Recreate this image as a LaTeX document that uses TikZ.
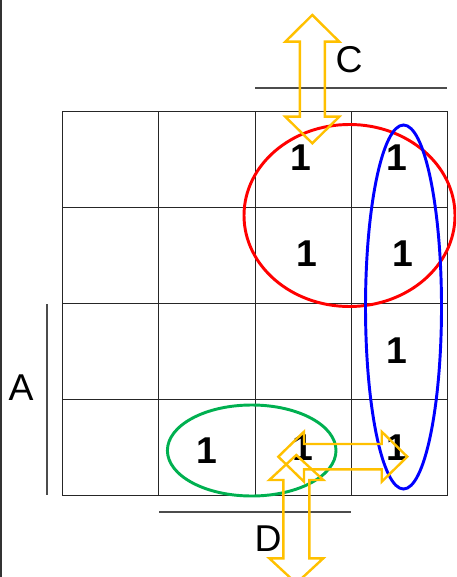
\documentclass[tikz,border=0pt]{standalone}
\usepackage{fontspec}
\setmainfont{Liberation Sans}
\usepackage{tikz}
\usetikzlibrary{positioning,calc}

\definecolor{kyellow}{HTML}{FFC000}
\definecolor{kgreen}{HTML}{00B050}

\begin{document}
\begin{tikzpicture}[x=0.75pt, y=-0.75pt,
  cell/.style={minimum width=72pt, minimum height=72pt, inner sep=0pt, outer sep=0pt},
  gridline/.style={draw=black!85, line width=0.85pt},
  one/.style={font=\fontsize{28}{30}\selectfont\bfseries, inner sep=0pt},
  varlabel/.style={font=\fontsize{28}{30}\selectfont, inner sep=0pt},
  varline/.style={draw=black!70, line width=0.8pt},
  loop/.style={line width=2.2pt},
  blockarrow/.style={draw=kyellow, line width=1.8pt, line join=miter}]
\useasboundingbox (0,0) rectangle (456,577);
\clip (0,0) rectangle (456,577);
\draw[black!80, line width=1.5pt] (1,0) -- (1,577);
% the map
\foreach \r/\y in {1/160,2/256,3/352,4/447.5}
  \foreach \c/\x in {1/110.5,2/207,3/303,4/399}
    \node[cell] (cell-\r-\c) at (\x,\y) {};
\foreach \x in {62.5,158.5,255.5,351.5,447.5}
  \draw[gridline] (\x,111.5) -- (\x,495.5);
\foreach \y in {111.5,207.5,303.5,399.5,495.5}
  \draw[gridline] (62.5,\y) -- (447.5,\y);
\node[one] (one-1-3) at ([shift={(-1.5pt,1.5pt)}]cell-1-3.center) {1};
\node[one] (one-1-4) at ([shift={(-1.5pt,1.5pt)}]cell-1-4.center) {1};
\node[one] (one-2-3) at ([shift={(3pt,2pt)}]cell-2-3.center) {1};
\node[one] (one-2-4) at ([shift={(3pt,2pt)}]cell-2-4.center) {1};
\node[one] (one-3-4) at ([shift={(-1.5pt,1pt)}]cell-3-4.center) {1};
\node[one] (one-4-2) at ([shift={(0pt,-2pt)}]cell-4-2.center) {1};
\node[one] (one-4-3) at (cell-4-3.center) {1};
\node[one] (one-4-4) at ([shift={(-1.5pt,0pt)}]cell-4-4.center) {1};
% variable bars
\node[varlabel] (lblC) at (349,60) {C};
\node[varlabel] (lblD) at (268,539) {D};
\node[varlabel] (lblA) at (21,388) {A};
\draw[varline] (255,88) -- (447,88);
\draw[varline] (159,512) -- (351,512);
\draw[varline] (47,304) -- (47,495);
% groups
\draw[loop, red] (349.5,215.5) ellipse (105.5 and 91);
\draw[loop, blue] (403.5,307) ellipse (38 and 182);
\draw[loop, kgreen] (251.7,450.5) ellipse (84.3 and 45.5);
% adjacency arrows
\draw[blockarrow] (312.3,15) -- (339.3,41.7) -- (324.8,41.7) -- (324.8,116.7) -- (339.3,116.7)
  -- (312.3,143.3) -- (285.3,116.7) -- (299.8,116.7) -- (299.8,41.7) -- (285.3,41.7) -- cycle;
\draw[blockarrow] (296.3,455) -- (323.3,480) -- (309.3,480) -- (309.3,558.3) -- (323.3,558.3)
  -- (296.3,583.3) -- (269.3,558.3) -- (283.3,558.3) -- (283.3,480) -- (269.3,480) -- cycle;
\draw[blockarrow] (278.3,456.7) -- (304,431.7) -- (304,444) -- (381.7,444) -- (381.7,431.7)
  -- (407.3,456.7) -- (381.7,481.7) -- (381.7,469.3) -- (304,469.3) -- (304,481.7) -- cycle;
\end{tikzpicture}
\end{document}
